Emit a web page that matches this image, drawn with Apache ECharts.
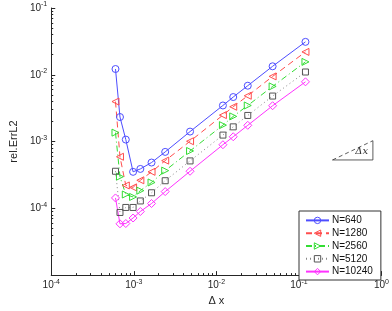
<!DOCTYPE html>
<html><head><meta charset="utf-8">
<script src="https://cdn.jsdelivr.net/npm/echarts@6/dist/echarts.min.js"></script>
<style>html,body{margin:0;padding:0;background:#fff}#c{width:392px;height:311px}</style>
</head><body><div id="c"></div>
<script>
var dx = [6.0e-4, 6.8e-4, 8.0e-4, 9.8e-4, 1.2e-3, 1.64e-3, 2.4e-3, 4.8e-3, 1.2e-2, 1.6e-2, 2.4e-2, 4.8e-2, 1.2e-1];
var n640   = [1.22e-2, 2.33e-3, 1.07e-3, 3.52e-4, 3.89e-4, 4.85e-4, 7.0e-4, 1.41e-3, 3.47e-3, 4.64e-3, 6.86e-3, 1.34e-2, 3.11e-2];
var n1280  = [3.97e-3, 5.92e-4, 2.2e-4, 2.06e-4, 2.63e-4, 3.52e-4, 5.18e-4, 1.01e-3, 2.49e-3, 3.32e-3, 4.85e-3, 9.45e-3, 2.2e-2];
var n2560  = [1.36e-3, 2.98e-4, 1.61e-4, 1.48e-4, 1.84e-4, 2.44e-4, 3.67e-4, 7.23e-4, 1.76e-3, 2.38e-3, 3.47e-3, 6.7e-3, 1.56e-2];
var n5120  = [3.59e-4, 8.67e-5, 1.03e-4, 1.03e-4, 1.29e-4, 1.71e-4, 2.59e-4, 5.13e-4, 1.25e-3, 1.66e-3, 2.46e-3, 4.8e-3, 1.1e-2];
var n10240 = [1.43e-4, 5.86e-5, 5.92e-5, 7.16e-5, 8.96e-5, 1.18e-4, 1.78e-4, 3.59e-4, 8.96e-4, 1.18e-3, 1.75e-3, 3.44e-3, 7.84e-3];
var seriesNames = ['N=640', 'N=1280', 'N=2560', 'N=5120', 'N=10240'];
var xTicks = [1e-4, 1e-3, 1e-2, 1e-1, 1];
var yTicks = [1e-5, 1e-4, 1e-3, 1e-2, 1e-1];
var yLabelTicks = [1e-4, 1e-3, 1e-2, 1e-1];
var slopeX = [0.255, 0.787];
var slopeY = [5.3e-4, 1.03e-3];
var slopeLabel = 'Δx';

function minors(decades) {
  var out = [];
  for (var i = 0; i < decades.length - 1; i++)
    for (var k = 2; k <= 9; k++) out.push(k * decades[i]);
  return out;
}
function pts(ys) { return dx.map(function (x, i) { return [x, ys[i]]; }); }

var FONT = 'Liberation Sans, Arial, Helvetica, sans-serif';
var AX = '#262626';
var richLbl = {
  b: { fontSize: 10, lineHeight: 14, fontFamily: FONT, color: AX },
  s: { fontSize: 7, lineHeight: 8, verticalAlign: 'top', fontFamily: FONT, color: AX }
};
function fmt(v) { return '{b|10}{s|' + Math.round(Math.log10(v)) + '}'; }

var styles = [
  { c: '#4d4dff', sym: 'circle', size: 7, rot: 0, type: 'solid' },
  { c: '#ff4d4d', sym: 'triangle', size: 7, rot: 90, type: [6, 4] },
  { c: '#33dd33', sym: 'triangle', size: 7, rot: -90, type: [6, 3, 1, 3] },
  { c: '#555555', sym: 'rect', size: 6, rot: 0, type: [1, 3], lc: '#888888' },
  { c: '#ff33ff', sym: 'diamond', size: 8, rot: 0, type: 'solid' }
];
var values = [n640, n1280, n2560, n5120, n10240];

var series = values.map(function (ys, i) {
  var s = styles[i];
  return {
    name: seriesNames[i], type: 'line', xAxisIndex: 0, yAxisIndex: 0,
    data: pts(ys), symbol: s.sym, symbolSize: s.size, symbolRotate: s.rot,
    showAllSymbol: true, animation: false,
    lineStyle: { color: s.lc || s.c, width: 1, type: s.type },
    itemStyle: { color: 'rgba(0,0,0,0)', borderColor: s.c, borderWidth: 1 }
  };
});
series.push({
  type: 'custom', xAxisIndex: 0, yAxisIndex: 0, silent: true, animation: false,
  data: [[slopeX[0], slopeY[0], slopeX[1], slopeY[1]]],
  renderItem: function (params, api) {
    var p0 = api.coord([api.value(0), api.value(1)]);
    var p1 = api.coord([api.value(2), api.value(3)]);
    return {
      type: 'group', children: [
        { type: 'polyline', shape: { points: [[p0[0], p0[1]], [p1[0], p0[1]], [p1[0], p1[1]]] },
          style: { stroke: '#333', lineWidth: 0.8, fill: null } },
        { type: 'line', shape: { x1: p0[0], y1: p0[1], x2: p1[0], y2: p1[1] },
          style: { stroke: '#333', lineWidth: 0.8, lineDash: [4, 3] } },
        { type: 'text', x: p0[0] + 0.72 * (p1[0] - p0[0]), y: p1[1] + 0.55 * (p0[1] - p1[1]),
          style: { text: slopeLabel, font: 'italic 10px "DejaVu Serif", "Liberation Serif", serif',
            fill: '#333', align: 'center', verticalAlign: 'middle' } }
      ]
    };
  }
});

var legendData = seriesNames.map(function (n, i) {
  return { name: n, itemStyle: { color: 'rgba(0,0,0,0)', borderColor: styles[i].c, borderWidth: 1 } };
});

var chart = echarts.init(document.getElementById('c'), null, { renderer: 'canvas' });
chart.setOption({
  animation: false,
  backgroundColor: '#fff',
  grid: { left: 37, right: 8, top: 8, bottom: 27, containLabel: false },
  legend: {
    data: legendData, orient: 'vertical', left: 299, top: 211,
    padding: [3, 8, 2, 6], itemGap: 0, itemWidth: 23, itemHeight: 8,
    borderColor: '#333', borderWidth: 1, backgroundColor: '#fff',
    textStyle: { fontSize: 10, fontFamily: FONT, color: '#111', lineHeight: 12.8, padding: [0, 0, 0, -2] }
  },
  xAxis: [{
    type: 'log', logBase: 10, min: 1e-4, max: 1,
    name: 'Δ x', nameLocation: 'middle', nameGap: 16,
    nameTextStyle: { fontSize: 11, fontFamily: FONT, color: AX },
    axisLine: { lineStyle: { color: AX, width: 1 } },
    axisTick: { inside: true, length: 4, lineStyle: { color: AX }, customValues: xTicks },
    axisLabel: { formatter: fmt, rich: richLbl, margin: 3, customValues: xTicks },
    splitLine: { show: false }
  }, {
    type: 'log', logBase: 10, min: 1e-4, max: 1, position: 'bottom',
    axisLine: { show: false },
    axisTick: { inside: true, length: 2, lineStyle: { color: AX }, customValues: minors(xTicks) },
    axisLabel: { show: false }, splitLine: { show: false }
  }],
  yAxis: [{
    type: 'log', logBase: 10, min: 1e-5, max: 1e-1,
    name: 'rel.ErrL2', nameLocation: 'middle', nameGap: 29,
    nameTextStyle: { fontSize: 11, fontFamily: FONT, color: AX },
    axisLine: { lineStyle: { color: AX, width: 1 } },
    axisTick: { inside: true, length: 4, lineStyle: { color: AX }, customValues: yTicks },
    axisLabel: { formatter: fmt, rich: richLbl, margin: 4, customValues: yLabelTicks },
    splitLine: { show: false }
  }, {
    type: 'log', logBase: 10, min: 1e-5, max: 1e-1, position: 'left',
    axisLine: { show: false },
    axisTick: { inside: true, length: 2, lineStyle: { color: AX }, customValues: minors(yTicks) },
    axisLabel: { show: false }, splitLine: { show: false }
  }],
  series: series
});
</script></body></html>
